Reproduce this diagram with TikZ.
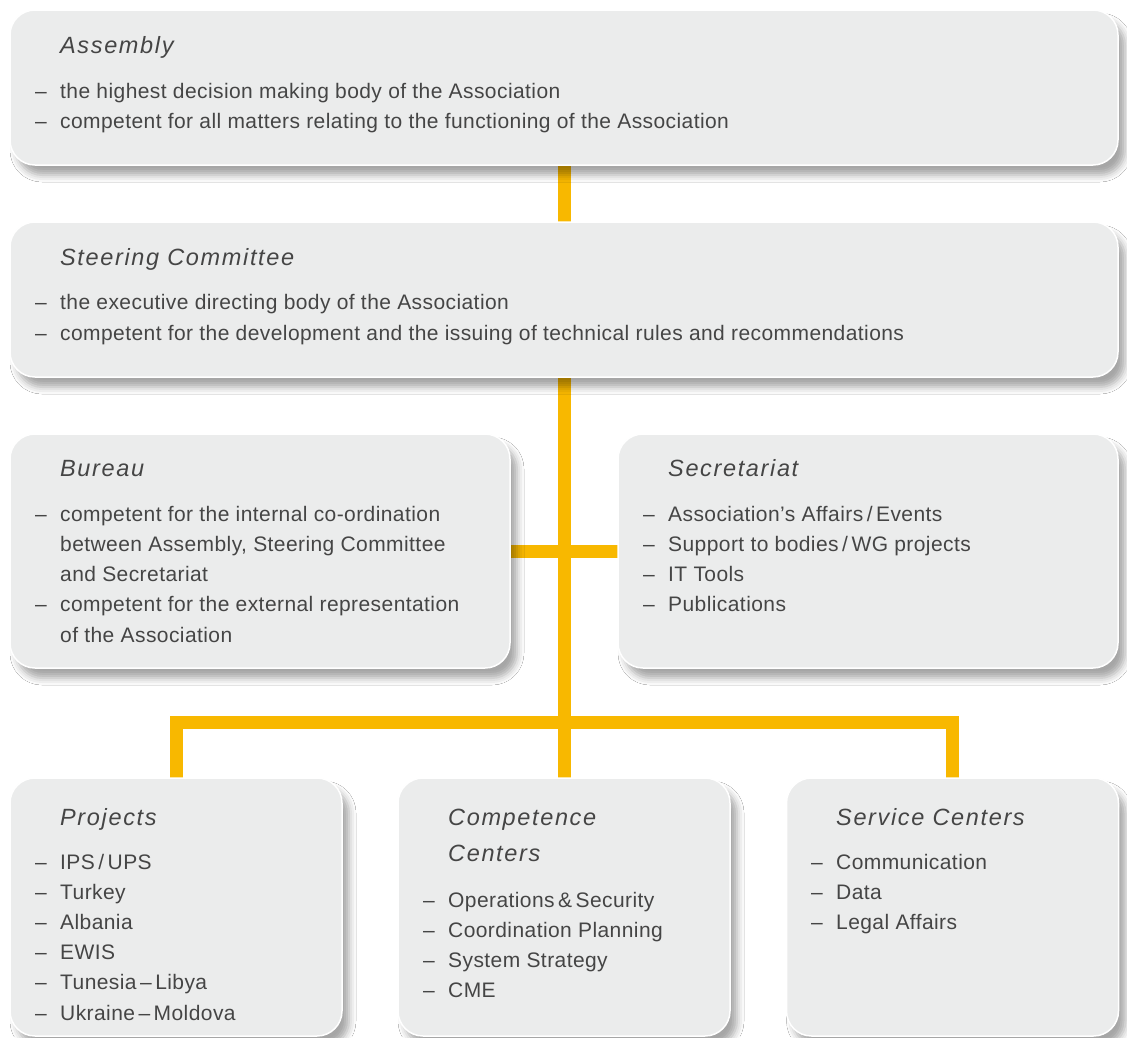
\documentclass[tikz,border=0pt]{standalone}
\usepackage{fontspec}
\setmainfont{Liberation Sans}
\newfontfamily\bodyff[LetterSpace=2]{Liberation Sans}
\newfontfamily\titleff[LetterSpace=7]{Liberation Sans}
\usetikzlibrary{shadows.blur}
\definecolor{boxfill}{HTML}{EBECEC}
\definecolor{conncol}{HTML}{F8B800}
\definecolor{txt}{HTML}{454545}
\newcommand\bodyfont{\bodyff\fontsize{21}{24}\selectfont}
\newcommand\titlefont{\titleff\fontsize{23.5}{27}\selectfont\itshape}
\newcommand\dsh{\makebox[25pt][l]{–}}
\tikzset{
  geom/.style={rectangle, inner sep=0pt, outer sep=0pt},
  wide/.style={geom, minimum width=1108pt, minimum height=155pt},
  mid/.style={geom, minimum width=500pt, minimum height=234pt},
  low/.style={geom, minimum width=332pt, minimum height=258pt},
  box/.style={rounded corners=25pt, fill=boxfill, draw=white, line width=1.5pt,
    blur shadow={shadow xshift=7pt, shadow yshift=-10pt, shadow blur radius=7pt, shadow opacity=35}},
  conn/.style={draw=conncol, line width=13pt, line join=miter},
  item/.style={anchor=base west, inner sep=0pt, font=\bodyfont, text=txt},
  ttl/.style={anchor=base west, inner sep=0pt, font=\titlefont, text=txt},
}
\begin{document}
\begin{tikzpicture}[x=1pt,y=-1pt]
\fill[white] (0,0) rectangle (1127,1037);
\useasboundingbox (0,0) rectangle (1127,1037);
% box frames (positions)
\path node[wide] (asm) at (564,87.5) {}
      node[wide] (steer) at (564,299.5) {}
      node[mid] (bur) at (260,551) {}
      node[mid] (sec) at (868,551) {}
      node[low] (proj) at (176,907) {}
      node[low] (comp) at (564,907) {}
      node[low] (serv) at (952.5,907) {};
\coordinate (jn) at (564,722);
% connectors
\draw[conn] (asm.south) -- (steer.north);
\draw[conn] (steer.south) -- (comp.north);
\draw[conn] (bur.east) -- (sec.west);
\draw[conn] (proj.north) -- (proj.north |- jn) -- (serv.north |- jn) -- (serv.north);
% visible boxes (over connectors, shadows fall on them)
\node[wide, box] (asmB) at (asm) {};
\node[wide, box] (steerB) at (steer) {};
\node[mid, box] (burB) at (bur) {};
\node[mid, box] (secB) at (sec) {};
\node[low, box] (projB) at (proj) {};
\node[low, box] (compB) at (comp) {};
\node[low, box] (servB) at (serv) {};
% Assembly
\node[ttl] (asmT) at (60,53) {Assembly};
\node[item] (asm1) at (35,98) {\dsh the highest decision making body of the Association};
\node[item] (asm2) at (35,128.3) {\dsh competent for all matters relating to the functioning of the Association};
% Steering
\node[ttl] (steerT) at (60,265) {Steering Committee};
\node[item] (steer1) at (35,309.5) {\dsh the executive directing body of the Association};
\node[item] (steer2) at (35,340) {\dsh competent for the development and the issuing of technical rules and recommendations};
% Bureau
\node[ttl] (burT) at (60,476) {Bureau};
\node[item] (bur1) at (35,521) {\dsh competent for the internal co-ordination};
\node[item] (bur2) at (60,551.3) {between Assembly, Steering Committee};
\node[item] (bur3) at (60,581.6) {and Secretariat};
\node[item] (bur4) at (35,611.9) {\dsh competent for the external representation};
\node[item] (bur5) at (60,642.2) {of the Association};
% Secretariat
\node[ttl] (secT) at (668,476) {Secretariat};
\node[item] (sec1) at (643,521) {\dsh Association’s Affairs\,/\,Events};
\node[item] (sec2) at (643,551.3) {\dsh Support to bodies\,/\,WG projects};
\node[item] (sec3) at (643,581.6) {\dsh IT Tools};
\node[item] (sec4) at (643,611.9) {\dsh Publications};
% Projects
\node[ttl] (projT) at (60,825) {Projects};
\node[item] (proj1) at (35,869) {\dsh IPS\,/\,UPS};
\node[item] (proj2) at (35,899.2) {\dsh Turkey};
\node[item] (proj3) at (35,929.4) {\dsh Albania};
\node[item] (proj4) at (35,959.6) {\dsh EWIS};
\node[item] (proj5) at (35,989.8) {\dsh Tunesia\,–\,Libya};
\node[item] (proj6) at (35,1020) {\dsh Ukraine\,–\,Moldova};
% Competence
\node[ttl] (compT1) at (448,825) {Competence};
\node[ttl] (compT2) at (448,861) {Centers};
\node[item] (comp1) at (423,907) {\dsh Operations\,\&\,Security};
\node[item] (comp2) at (423,937.2) {\dsh Coordination Planning};
\node[item] (comp3) at (423,967.4) {\dsh System Strategy};
\node[item] (comp4) at (423,997.6) {\dsh CME};
% Service
\node[ttl] (servT) at (836,825) {Service Centers};
\node[item] (serv1) at (811,869) {\dsh Communication};
\node[item] (serv2) at (811,899.2) {\dsh Data};
\node[item] (serv3) at (811,929.4) {\dsh Legal Affairs};
\end{tikzpicture}
\end{document}
